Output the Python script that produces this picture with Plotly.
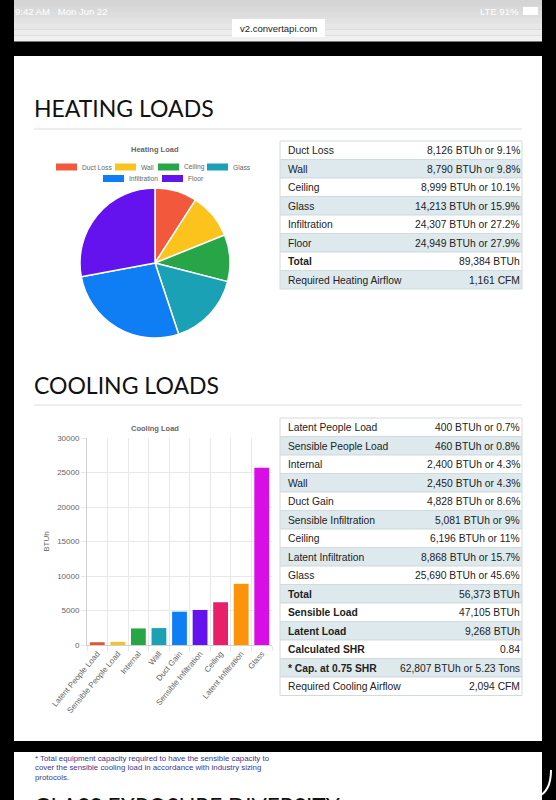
import plotly.graph_objects as go

W, H = 556, 800

# ---------------- data ----------------
heat_labels = ["Duct Loss", "Wall", "Ceiling", "Glass", "Infiltration", "Floor"]
heat_values = [8126, 8790, 8999, 14213, 24307, 24949]
heat_colors = ["#f2583b", "#fbc31c", "#27a547", "#1ba1b5", "#0f7ef5", "#6412ee"]
heat_airflow_cfm = 1161

cool_labels = ["Latent People Load", "Sensible People Load", "Internal", "Wall",
               "Duct Gain", "Sensible Infiltration", "Ceiling",
               "Latent Infiltration", "Glass"]
cool_values = [400, 460, 2400, 2450, 4828, 5081, 6196, 8868, 25690]
cool_colors = ["#e0553a", "#f2c230", "#27a547", "#1ba1b5", "#0f7ef5",
               "#6412ee", "#e6216a", "#fd930b", "#d80ee6"]
sensible_load = 47105
latent_load = 9268
calc_shr = 0.84
cap_btuh = 62807
cap_tons = 5.23
cool_airflow_cfm = 2094

y_tick_vals = [0, 5000, 10000, 15000, 20000, 25000, 30000]

footnote_lines = ["* Total equipment capacity required to have the sensible capacity to",
                  "cover the sensible cooling load in accordance with industry sizing",
                  "protocols."]

# ---------------- helpers ----------------
def X(px):
    return px / W

def Y(py):
    return 1 - py / H

shapes = []
annots = []

def rect(x0, y0, x1, y1, color, line=None, lw=0):
    shapes.append(dict(type="rect", xref="paper", yref="paper",
                       x0=X(x0), x1=X(x1), y0=Y(y1), y1=Y(y0),
                       fillcolor=color, line=dict(width=lw, color=line or color),
                       layer="below"))

def text(x, y, s, size, color, family="Liberation Sans", xanchor="left",
         yanchor="middle", bold=False):
    annots.append(dict(x=X(x), y=Y(y), xref="paper", yref="paper",
                       text=f"<b>{s}</b>" if bold else s, showarrow=False,
                       xanchor=xanchor, yanchor=yanchor, borderpad=0,
                       font=dict(size=size, color=color, family=family)))

def pct(v, total):
    return f"{round(100 * v / total, 1):g}"

# ---------------- page chrome ----------------
grad = ["#d5d5d5", "#d9d9d9", "#dddddd", "#e2e2e2", "#e7e7e7", "#ececec", "#f0f0f0"]
step = 41 / len(grad)
for i, c in enumerate(grad):
    rect(14, i * step, 542, (i + 1) * step + 0.5, c)
text(14, 11, "9:42 AM&nbsp;&nbsp;&nbsp;Mon Jun 22", 9.5, "#ffffff")
text(520, 11, "LTE 91%", 9.5, "#ffffff", xanchor="right")
rect(523, 7, 538, 15, "#ffffff")
rect(232, 19, 325, 37, "#ffffff")
text(278.5, 28, "v2.convertapi.com", 9.5, "#222222", xanchor="center")

rect(14, 56, 542, 741, "#ffffff")
rect(14, 752, 542, 800, "#ffffff")
shapes.append(dict(type="path", xref="paper", yref="paper",
                   path=f"M {X(551)} {Y(770)} Q {X(551)} {Y(792)} {X(537)} {Y(797)}",
                   line=dict(color="#ffffff", width=2)))

HEAD_FONT = "Lato"
text(33, 108, "HEATING LOADS", 23, "#111111", family=HEAD_FONT)
shapes.append(dict(type="line", xref="paper", yref="paper", x0=X(34), x1=X(522),
                   y0=Y(129), y1=Y(129), line=dict(color="#dddddd", width=1.2)))
text(33, 385, "COOLING LOADS", 23, "#111111", family=HEAD_FONT)
shapes.append(dict(type="line", xref="paper", yref="paper", x0=X(34), x1=X(522),
                   y0=Y(405), y1=Y(405), line=dict(color="#dddddd", width=1.2)))
text(33, 792, "GLASS EXPOSURE DIVERSITY", 22.5, "#111111", family=HEAD_FONT,
     yanchor="top")

for i, ln in enumerate(footnote_lines):
    text(34, 758 + i * 9.6, ln, 7.85, "#3a3890")

# ---------------- heating pie ----------------
fig = go.Figure()
fig.add_trace(go.Pie(
    labels=heat_labels, values=heat_values, sort=False, direction="clockwise",
    rotation=0, marker=dict(colors=heat_colors, line=dict(color="#ffffff", width=1.5)),
    textinfo="none", hoverinfo="skip", showlegend=False,
    domain=dict(x=[X(80), X(230)], y=[Y(338), Y(188)])))

text(155, 149, "Heating Load", 7.5, "#666666", xanchor="center", bold=True)
legend_rows = [(167, [56, 115, 158, 207]), (178.5, [103, 162])]
k = 0
for ly, xs in legend_rows:
    for bx in xs:
        rect(bx, ly - 3.5, bx + 21, ly + 3.5, heat_colors[k])
        text(bx + 24.5, ly, heat_labels[k], 6.7, "#666666")
        k += 1

# ---------------- tables ----------------
ROW_H = 18.5
SHADE = "#dde9ec"
LINE = "#d3dadc"
TXT = "#222222"
TFS = 10.3

def add_table(labels, vals, top, bold_rows):
    for i, (lab, val) in enumerate(zip(labels, vals)):
        y0 = top + i * ROW_H
        fill = SHADE if i % 2 == 1 else "#ffffff"
        rect(280, y0, 522, y0 + ROW_H, fill, line=LINE, lw=1)
        text(287, y0 + ROW_H / 2 + 0.5, lab, TFS, TXT, bold=i in bold_rows)
        text(520.5, y0 + ROW_H / 2 + 0.5, val, TFS, TXT, xanchor="right")

heat_total = sum(heat_values)
h_lab = heat_labels + ["Total", "Required Heating Airflow"]
h_val = [f"{v:,} BTUh or {pct(v, heat_total)}%" for v in heat_values] + \
        [f"{heat_total:,} BTUh", f"{heat_airflow_cfm:,} CFM"]
add_table(h_lab, h_val, 141, {len(heat_labels)})

cool_total = sum(cool_values)
c_lab = cool_labels + ["Total", "Sensible Load", "Latent Load", "Calculated SHR",
                       "* Cap. at 0.75 SHR", "Required Cooling Airflow"]
c_val = [f"{v:,} BTUh or {pct(v, cool_total)}%" for v in cool_values] + \
        [f"{cool_total:,} BTUh", f"{sensible_load:,} BTUh", f"{latent_load:,} BTUh",
         f"{calc_shr}", f"{cap_btuh:,} BTUh or {cap_tons} Tons",
         f"{cool_airflow_cfm:,} CFM"]
nb = len(cool_labels)
add_table(c_lab, c_val, 418, {nb, nb + 1, nb + 2, nb + 3, nb + 4})

# ---------------- cooling bar chart ----------------
fig.add_trace(go.Bar(x=cool_labels, y=cool_values,
                     marker=dict(color=cool_colors, line=dict(width=0)),
                     width=0.72, hoverinfo="skip", showlegend=False,
                     xaxis="x", yaxis="y"))
fig.add_trace(go.Scatter(x=[-0.5, len(cool_labels) - 0.5], y=[0, 0], mode="markers",
                         marker=dict(opacity=0), hoverinfo="skip", showlegend=False,
                         xaxis="x2", yaxis="y"))
text(155, 428, "Cooling Load", 7.5, "#666666", xanchor="center", bold=True)

GRID = "#e8e8e8"
fig.update_layout(
    xaxis=dict(domain=[X(87), X(272)], anchor="y", type="category",
               range=[-0.5, len(cool_labels) - 0.5], showgrid=False,
               tickangle=-50,
               tickfont=dict(size=8, color="#666666", family="Liberation Sans"),
               ticks="", showline=True, linecolor="#cfcfcf", linewidth=1,
               automargin=False, fixedrange=True),
    xaxis2=dict(domain=[X(87), X(272)], anchor="y", overlaying="x",
                range=[-0.5, len(cool_labels) - 0.5], tick0=-0.5, dtick=1,
                showgrid=True, gridcolor=GRID, gridwidth=1, showticklabels=False,
                ticks="outside", ticklen=5, tickcolor=GRID, zeroline=False,
                automargin=False, fixedrange=True),
    yaxis=dict(domain=[Y(645), Y(438)], anchor="x", range=[0, 30000],
               tickvals=y_tick_vals, ticktext=[str(v) for v in y_tick_vals],
               showgrid=True, gridcolor=GRID, gridwidth=1, zeroline=False,
               ticks="outside", ticklen=5, tickcolor=GRID,
               showline=True, linecolor="#cfcfcf", linewidth=1,
               tickfont=dict(size=8, color="#666666", family="Liberation Sans"),
               title=dict(text="BTUh",
                          font=dict(size=8, color="#666666", family="Liberation Sans"),
                          standoff=6),
               automargin=False, fixedrange=True),
)

fig.update_layout(
    width=W, height=H, margin=dict(l=0, r=0, t=0, b=0),
    paper_bgcolor="#000000", plot_bgcolor="rgba(0,0,0,0)",
    shapes=shapes, annotations=annots, showlegend=False,
)

fig.write_html("out.html", config={"displayModeBar": False},
               post_script="document.body.style.margin='0px';"
                           "document.body.style.overflow='hidden';")
